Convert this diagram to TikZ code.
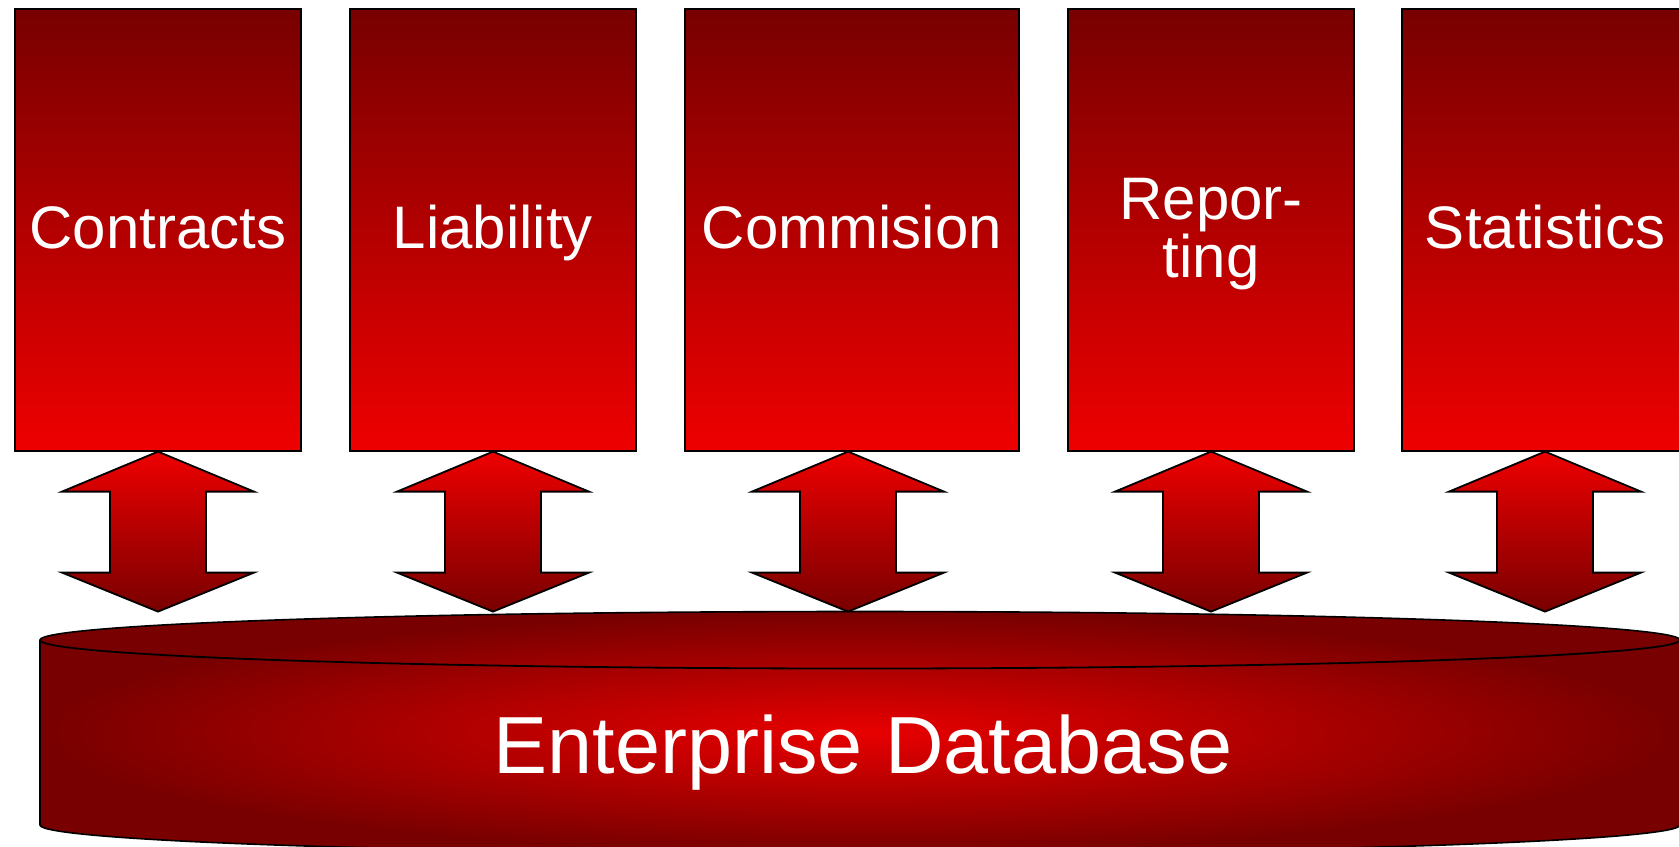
\documentclass[tikz,border=0pt]{standalone}
\usepackage{fontspec}
\setmainfont{Liberation Sans}

\definecolor{darkcolor}{RGB}{120,0,0}
\definecolor{brightcolor}{RGB}{238,0,0}
\definecolor{centercolor}{RGB}{232,0,0}

\tikzset{
  appbox/.style={draw=black, line width=0.6pt, top color=darkcolor, bottom color=brightcolor,
    text=white, minimum width=143pt, minimum height=221pt, inner sep=0pt,
    align=center, font=\fontsize{30}{29}\selectfont},
  oneline/.style={appbox, text height=18pt, text depth=0pt},
  dbarrow/.style={draw=black, line width=0.9pt, top color=brightcolor, bottom color=darkcolor}
}

\begin{document}
\begin{tikzpicture}[x=0.5pt, y=-0.5pt]
        \useasboundingbox (0,0) rectangle (1679,846);
        \clip (0,0) rectangle (1679,846);

        % Draw the database cylinder
        \shadedraw[inner color=centercolor, outer color=darkcolor, line width=0.8pt]
          (40,640) arc[start angle=180, end angle=360, x radius=820, y radius=28.5]
          -- (1680,825) arc[start angle=0, end angle=180, x radius=820, y radius=28.5] -- cycle;
        \draw[line width=0.9pt] (40,640) arc[start angle=180, end angle=0, x radius=820, y radius=28.5];
        \node[anchor=base, text=white, font=\fontsize{40.5}{40.5}\selectfont] (db) at (863,773) {Enterprise Database};

        % Application boxes
        \node[oneline] (contracts) at (158,230) {Contracts};
        \node[oneline] (liability) at (493,230) {Liability};
        \node[oneline, minimum width=167pt] (commision) at (852,230) {Commision};
        \node[appbox, text depth=2pt] (reporting) at (1211,230) {Repor-\\ting};
        \node[oneline] (statistics) at (1545,230) {Statistics};

        % Double arrows down to the database
        \draw[dbarrow] (contracts.south) -- ++(96,40) -- ++(-48,0) -- ++(0,81) -- ++(48,0) -- ++(-96,39)
          -- ++(-96,-39) -- ++(48,0) -- ++(0,-81) -- ++(-48,0) -- cycle;
        \draw[dbarrow] (liability.south) -- ++(96,40) -- ++(-48,0) -- ++(0,81) -- ++(48,0) -- ++(-96,39)
          -- ++(-96,-39) -- ++(48,0) -- ++(0,-81) -- ++(-48,0) -- cycle;
        \draw[dbarrow] ([xshift=-2pt]commision.south) -- ++(96,40) -- ++(-48,0) -- ++(0,81) -- ++(48,0) -- ++(-96,39)
          -- ++(-96,-39) -- ++(48,0) -- ++(0,-81) -- ++(-48,0) -- cycle;
        \draw[dbarrow] (reporting.south) -- ++(96,40) -- ++(-48,0) -- ++(0,81) -- ++(48,0) -- ++(-96,39)
          -- ++(-96,-39) -- ++(48,0) -- ++(0,-81) -- ++(-48,0) -- cycle;
        \draw[dbarrow] (statistics.south) -- ++(96,40) -- ++(-48,0) -- ++(0,81) -- ++(48,0) -- ++(-96,39)
          -- ++(-96,-39) -- ++(48,0) -- ++(0,-81) -- ++(-48,0) -- cycle;
\end{tikzpicture}
\end{document}
